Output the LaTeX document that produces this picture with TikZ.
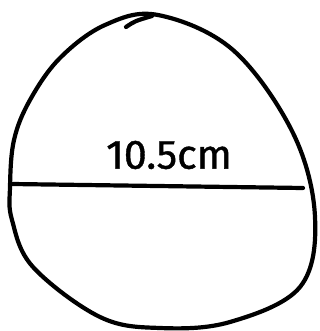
\documentclass[tikz,border=0pt]{standalone}
\usepackage{fontspec}
\setmainfont{Fira Sans}

\begin{document}
\begin{tikzpicture}
[
	pen/.style={line width=4.2pt,line cap=round,line join=round},
	lbl/.style={inner sep=0pt,font=\fontsize{41}{43}\selectfont},
	x=1pt,
	y=-1pt
]

	\useasboundingbox (0,0) rectangle (320,331);

	% outline
	\draw[pen] plot[smooth cycle,tension=0.6] coordinates
		{(158,15) (233,50) (293,133) (315,217) (300,287) (230,322) (160,328)
		 (100,317) (33,267) (12,220) (10,187) (14,140) (30,100) (60,58) (105,25)};
	\draw[pen] (126,27) .. controls (135,21) .. (152,16);

	% diameter
	\coordinate (l) at (12,184);
	\coordinate (r) at (303,188);
	\draw[pen] (l) -- (r);

	\node[lbl] (d) at (169,155) {\addfontfeature{FakeBold=1}10.5cm};

\end{tikzpicture}
\end{document}
